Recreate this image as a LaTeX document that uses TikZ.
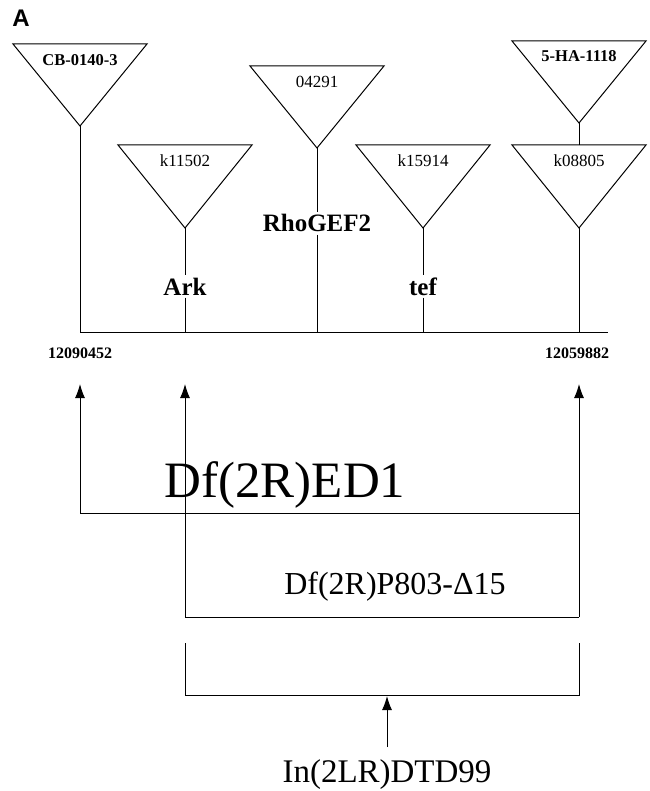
\documentclass[tikz,border=0pt]{standalone}
\usepackage{fontspec}
\setmainfont{Liberation Serif}
\newfontfamily\labfont{Liberation Sans}
\usetikzlibrary{arrows.meta}
\begin{document}
\begin{tikzpicture}[x=1pt,y=-1pt,line width=1pt,
  tri/.style={draw,line join=miter},
  lab/.style={anchor=base,inner sep=0pt,font=\fontsize{17}{17}\selectfont},
  blab/.style={anchor=base,inner sep=0pt,font=\bfseries\fontsize{16.5}{17}\selectfont},
  gene/.style={anchor=base,fill=white,inner sep=2pt,font=\bfseries\fontsize{25}{25}\selectfont},
  posn/.style={anchor=base,inner sep=0pt,font=\bfseries\fontsize{16}{16}\selectfont},
  arr/.style={-{Latex[length=14pt,width=10pt]}},
  big/.style={anchor=base,inner sep=0pt},
]
\useasboundingbox (0,0) rectangle (649,791);

% panel label
\node[anchor=base west,inner sep=0pt,font=\labfont\bfseries\fontsize{24}{24}\selectfont] (panel) at (12,27) {A};

% triangles (insertions)
\draw[tri] (13,44) -- (147,44) -- (80,126) -- cycle;
\coordinate (ap1) at (80,126);
\node[blab] (cb) at (80,66) {CB-0140-3};

\draw[tri] (118,145) -- (252,145) -- (185,228) -- cycle;
\coordinate (ap2) at (185,228);
\node[lab] (k1) at (185,167) {k11502};

\draw[tri] (250,66) -- (384,66) -- (317,148) -- cycle;
\coordinate (ap3) at (317,148);
\node[lab] (p0) at (317,88) {04291};

\draw[tri] (356,145) -- (490,145) -- (423,228) -- cycle;
\coordinate (ap4) at (423,228);
\node[lab] (k2) at (423,167) {k15914};

\draw[tri] (512,41) -- (646,41) -- (579,123) -- cycle;
\coordinate (ap5) at (579,123);
\coordinate (top6) at (579,145);
\node[blab] (ha) at (579,62) {5-HA-1118};

\draw[tri] (512,145) -- (646,145) -- (579,228) -- cycle;
\coordinate (ap6) at (579,228);
\node[lab] (k3) at (579,167) {k08805};

% genomic baseline
\coordinate (bL) at (80,332);
\coordinate (bR) at (608,332);
\coordinate (b2) at (185,332);
\coordinate (b3) at (317,332);
\coordinate (b4) at (423,332);
\coordinate (b6) at (579,332);
\draw (bL) -- (bR);

% gene labels
\node[gene] (rho) at (317,232) {RhoGEF2};
\node[gene] (ark) at (185,295) {Ark};
\node[gene] (tef) at (423,295) {tef};

% stems
\draw (ap1) -- (bL);
\draw (ap2) -- (ark);
\draw (ark) -- (b2);
\draw (ap3) -- (rho);
\draw (rho) -- (b3);
\draw (ap4) -- (tef);
\draw (tef) -- (b4);
\draw (ap5) -- (top6);
\draw (ap6) -- (b6);

% coordinates
\node[posn] (c1) at (80,358) {12090452};
\node[posn] (c2) at (577,358) {12059882};

% deficiencies
\coordinate (t1) at (80,384);
\coordinate (t2) at (185,384);
\coordinate (t3) at (579,384);
\coordinate (e1L) at (80,513);
\coordinate (e1R) at (579,513);
\coordinate (p8L) at (185,617);
\coordinate (p8R) at (579,617);
\draw[arr] (e1L) -- (t1);
\draw (e1L) -- (e1R);
\draw[arr] (p8L) -- (t2);
\draw[arr] (p8R) -- (t3);
\draw (p8L) -- (p8R);
\node[big,font=\fontsize{51}{51}\selectfont] (ed1) at (285,497) {Df(2R)ED1};
\node[big,font=\fontsize{32}{32}\selectfont] (p803) at (395,594) {Df(2R)P803-Δ15};

% inversion
\coordinate (dL1) at (185,643);
\coordinate (dL2) at (185,695);
\coordinate (dR1) at (579,643);
\coordinate (dR2) at (579,695);
\coordinate (dM) at (387,696);
\coordinate (dS) at (387,747);
\draw (dL1) -- (dL2) -- (dR2) -- (dR1);
\draw[arr] (dS) -- (dM);
\node[big,font=\fontsize{33}{33}\selectfont] (dtd) at (387,782) {In(2LR)DTD99};
\end{tikzpicture}
\end{document}
